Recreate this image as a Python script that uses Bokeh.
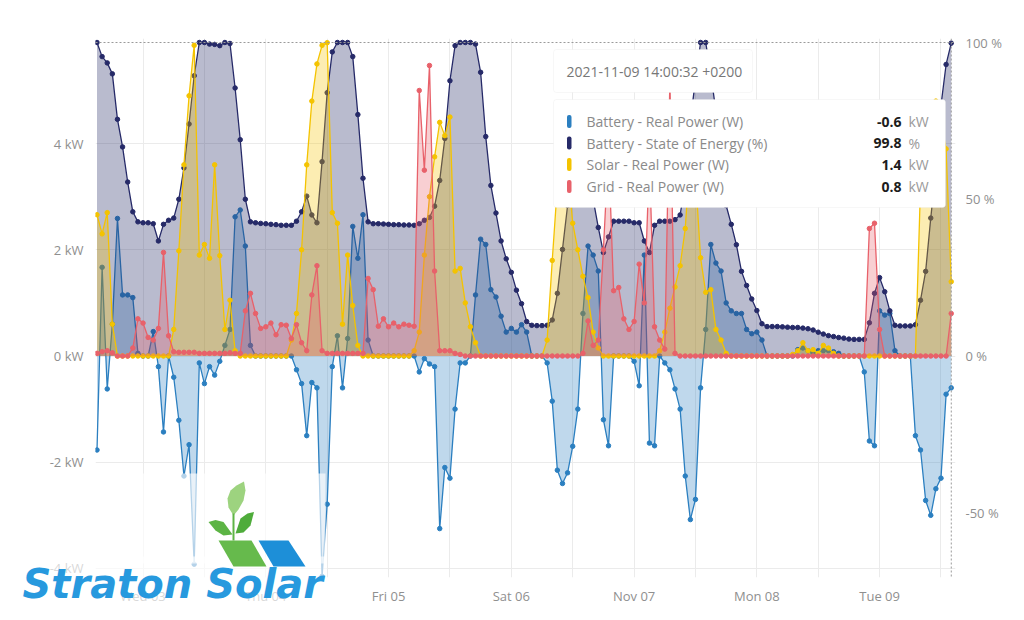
import pandas as pd
from bokeh.plotting import figure
from bokeh.models import (Range1d, LinearAxis, FixedTicker, Span, BoxAnnotation, Label, Title)
from bokeh.embed import file_html
from bokeh.resources import INLINE

# ---------------- data (hourly samples, first at 2021-11-02 15:00) ----------------
start_time = "2021-11-02 15:00"
n_points = 168

battery_kw = [
    -1.77, 1.67, -0.62, 0.6, 2.59, 1.15, 1.15, 1.1, 0.05, 0, 0, 0.46,
    -0.2, -1.43, 0, -0.4, -1.21, -2.26, -1.67, -3.92, -0.13, -0.52, -0.2, -0.36,
    -0.1, 0.2, 0.5, 2.62, 2.75, 2.07, 0.2, 0, 0, 0, 0, 0,
    0, 0, 0, -0.26, -0.52, -1.5, -0.5, -0.6, -4.15, -2.79, -0.2, 0.38,
    -0.6, 0.33, 2.44, 1.84, 2.66, 0.3, 0, 0, 0, 0, 0, 0,
    0, 0, 0, -0.3, -0.05, -0.15, -0.2, -3.25, -2.1, -2.3, -1.0, -0.13,
    -0.13, 0, 1.15, 2.2, 2.1, 1.25, 1.11, 0.75, 0.45, 0.52, 0.45, 0.59,
    0.45, 0, 0, 0, -0.13, -0.85, -2.15, -2.4, -2.2, -1.7, -1.0, 0.8,
    2.07, 1.9, 1.6, -1.2, -1.69, 0, 0, 0, 0, -0.1, -0.56, 1.9,
    -1.64, -1.69, 0, -0.13, -0.26, -0.62, -1.0, -2.26, -3.08, -2.7, -0.6, 0.5,
    2.1, 1.75, 1.6, 1.0, 0.85, 0.8, 0.8, 0.5, 0.42, 0.45, 0.3, 0,
    0, 0, 0, 0, 0, 0.12, 0.15, 0.1, 0.05, 0.1, 0.1, 0.1,
    0.08, 0.05, 0, 0, 0, 0, -0.3, -1.6, -1.69, 0.85, 0.77, 0.8,
    0.1, 0, 0, 0, -1.5, -1.77, -2.72, -3.0, -2.5, -2.3, -0.72, -0.6,
]

soe_pct = [
    100, 95.5, 93.5, 90, 75.5, 66.7, 55.5, 46, 42.8, 42.5, 42.5, 42.2,
    36.7, 42, 43.3, 44, 50, 60, 74, 89.4, 100, 100, 99.5, 99.4,
    99, 100, 99.7, 85.5, 69, 50, 42.8, 42.5, 42.3, 42.2, 42, 41.9,
    41.7, 41.7, 41.7, 43, 46, 51, 45, 42.5, 62, 84, 97, 100,
    100, 100, 95.5, 77, 56.7, 42.8, 42.2, 42.2, 42.1, 42, 41.9, 41.9,
    41.8, 41.8, 41.7, 42.2, 43.3, 44.2, 47.8, 56, 69.4, 87.8, 99, 100,
    100, 100, 99.5, 90.5, 70, 54.4, 45.6, 36.7, 31, 26.7, 21, 16.7,
    11, 9.8, 9.7, 9.7, 9.8, 11.5, 20, 34, 48, 62, 72, 76,
    68, 50, 41, 33, 38, 43, 43, 43, 43, 42.5, 42.5, 36.7,
    33, 41.7, 43, 43, 43, 43.5, 45, 55, 75, 88, 100, 100,
    90, 78, 62, 48, 42, 35.5, 27, 22.5, 18.2, 14.5, 10.3, 9.4,
    9.4, 9.4, 9.3, 9.2, 9.1, 9.1, 8.9, 8.7, 8.3, 7.6, 7, 6.5,
    6.2, 5.9, 5.7, 5.4, 5.3, 5.3, 5.3, 10.6, 20, 25, 20.5, 14.4,
    9.8, 9.6, 9.6, 9.6, 10, 17.8, 27, 44, 60, 80, 93, 99.8,
]

solar_kw = [
    2.66, 2.3, 2.7, 0.6, 0, 0, 0, 0, 0, 0, 0, 0,
    0, 0, 0, 0.5, 1.98, 3.6, 4.9, 5.85, 1.9, 2.1, 1.84, 3.6,
    1.89, 0.5, 1.05, 0.1, 0, 0, 0, 0, 0, 0, 0, 0,
    0, 0, 0.3, 0.8, 2.0, 3.6, 4.8, 5.5, 5.85, 5.9, 2.7, 2.5,
    0.6, 1.9, 0.95, 0.2, 0, 0, 0, 0, 0, 0, 0, 0,
    0, 0, 0.1, 0.45, 1.9, 3.0, 3.75, 4.4, 4.15, 4.5, 1.6, 1.65,
    1.0, 0.55, 0.25, 0, 0, 0, 0, 0, 0, 0, 0, 0,
    0, 0, 0, 0, 0.3, 1.8, 3.2, 4.0, 3.6, 2.5, 2.0, 1.5,
    1.1, 0.45, 0.15, 0, 0, 0, 0, 0, 0, 0, 0, 0,
    0, 0, 0.1, 0.45, 0.9, 1.3, 1.7, 2.4, 3.8, 3.4, 1.85, 1.2,
    1.25, 0.5, 0.3, 0.05, 0, 0, 0, 0, 0, 0, 0, 0,
    0, 0, 0, 0, 0.03, 0.1, 0.25, 0.1, 0.12, 0.05, 0.2, 0.15,
    0.05, 0, 0, 0, 0, 0, 0, 0, 0, 0, 0, 0,
    0, 0, 0, 0, 0, 3.2, 4.0, 4.6, 4.8, 4.4, 3.9, 1.4,
]

grid_kw = [
    0.05, 0.08, 0.1, 0.06, 0, 0, 0, 0.15, 0.7, 0.62, 0.35, 0.3,
    0.52, 1.95, 0.38, 0.08, 0.07, 0.07, 0.07, 0.07, 0.05, 0.05, 0.05, 0.05,
    0.05, 0.05, 0.06, 0.05, 0.05, 0.85, 1.18, 0.8, 0.52, 0.55, 0.62, 0.4,
    0.59, 0.58, 0.33, 0.59, 0.25, 0.1, 1.15, 1.7, 0.1, 0.05, 0.05, 0.05,
    0.05, 0.05, 0.05, 0.05, 0.05, 1.46, 1.25, 0.56, 0.7, 0.55, 0.62, 0.55,
    0.6, 0.58, 0.56, 5.0, 3.5, 5.47, 1.6, 0.1, 0.1, 0.1, 0.05, 0.03,
    0, 0, 0, 0, 0, 0, 0, 0, 0, 0, 0, 0,
    0, 0, 0, 0, 0, 0, 0, 0, 0, 0, 0, 0.05,
    0.66, 0.2, 0.3, 2.0, 3.9, 1.23, 1.29, 0.7, 0.5, 0.65, 1.73, 1.0,
    3.7, 0.55, 0.3, 0.13, 5.2, 0.05, 0, 0, 0, 0, 0, 0,
    0, 0, 0, 0, 0, 0, 0, 0, 0, 0, 0, 0,
    0, 0, 0, 0, 0, 0, 0, 0, 0, 0, 0, 0,
    0, 0, 0, 0, 0, 0, 0, 2.4, 2.5, 0.5, 0, 0,
    0, 0, 0, 0, 0, 0, 0, 0, 0, 0, 0, 0.8,
]

day_ticks = ["2021-11-03", "2021-11-04", "2021-11-05", "2021-11-06",
             "2021-11-07", "2021-11-08", "2021-11-09"]
day_labels = ["Wed 03", "Thu 04", "Fri 05", "Sat 06", "Nov 07", "Mon 08", "Tue 09"]
kw_ticks = [-4, -2, 0, 2, 4]
pct_ticks = [-50, 0, 50, 100]

series_names = ["Battery - Real Power (W)", "Battery - State of Energy (%)",
                "Solar - Real Power (W)", "Grid - Real Power (W)"]
tooltip_values = ["-0.6", "99.8", "1.4", "0.8"]
tooltip_units = ["kW", "%", "kW", "kW"]
tooltip_time = "2021-11-09 14:00:32 +0200"
cursor_time = "2021-11-09 14:00:32"
logo_text = "Straton Solar"

C_BAT = "#2b7fc0"
C_SOE = "#262a68"
C_SOL = "#f4c300"
C_GRID = "#e8616a"
colors = [C_BAT, C_SOE, C_SOL, C_GRID]
FONT = "Open Sans"
TICK_COLOR = "#8f8f8f"

times = pd.date_range(start_time, periods=n_points, freq="h")


def ms(t):
    return pd.Timestamp(t).value / 1e6


p = figure(frame_width=860, frame_height=539, x_axis_type="datetime",
           x_range=Range1d(pd.Timestamp("2021-11-02 14:42:24"), pd.Timestamp("2021-11-09 14:50:12")),
           y_range=Range1d(-4.171, 5.979),
           output_backend="svg", toolbar_location=None,
           min_border_left=95, min_border_right=65, min_border_top=38, min_border_bottom=5)
p.extra_y_ranges = {"soe": Range1d(-70.65, 101.28), "py": Range1d(577, 38)}
p.extra_x_ranges = {"px": Range1d(95, 955)}
p.outline_line_color = None
p.background_fill_color = "white"
p.border_fill_color = "white"

xa = p.xaxis[0]
ya = p.yaxis[0]
for ax in [xa, ya]:
    ax.axis_line_color = None
    ax.major_tick_line_color = None
    ax.minor_tick_line_color = None
    ax.major_tick_out = 0
    ax.major_tick_in = 0
    ax.minor_tick_out = 0
    ax.major_label_text_font = FONT
    ax.major_label_text_font_size = "13px"
    ax.major_label_text_color = TICK_COLOR

ya.ticker = FixedTicker(ticks=kw_ticks)
ya.major_label_overrides = {t: f"{t} kW" for t in kw_ticks}
ya.major_label_standoff = 12

xa.ticker = FixedTicker(ticks=[ms(d) for d in day_ticks])
xa.major_label_overrides = {ms(d): l for d, l in zip(day_ticks, day_labels)}
xa.major_label_standoff = -5

ax_r = LinearAxis(y_range_name="soe", ticker=FixedTicker(ticks=pct_ticks),
                  major_label_overrides={t: f"{t} %" for t in pct_ticks})
ax_r.axis_line_color = None
ax_r.major_tick_line_color = None
ax_r.minor_tick_line_color = None
ax_r.major_tick_out = 0
ax_r.major_tick_in = 0
ax_r.minor_tick_out = 0
ax_r.major_label_text_font = FONT
ax_r.major_label_text_font_size = "13px"
ax_r.major_label_text_color = TICK_COLOR
ax_r.major_label_standoff = 10
p.add_layout(ax_r, "right")

half_days = pd.date_range("2021-11-03 00:00", periods=14, freq="12h")
p.xgrid.ticker = FixedTicker(ticks=[ms(t) for t in half_days])
p.xgrid.grid_line_color = "#ebebeb"
p.ygrid.grid_line_color = "#ebebeb"

# series: battery, state of energy, solar, grid
p.varea(x=times, y1=0, y2=battery_kw, fill_color=C_BAT, fill_alpha=0.3)
p.line(times, battery_kw, line_color=C_BAT, line_width=1.3)
p.scatter(times, battery_kw, size=4.5, color=C_BAT)

p.varea(x=times, y1=0, y2=soe_pct, fill_color=C_SOE, fill_alpha=0.32, y_range_name="soe")
p.line(times, soe_pct, line_color=C_SOE, line_width=1.3, y_range_name="soe")
p.scatter(times, soe_pct, size=4.5, color=C_SOE, y_range_name="soe")

p.varea(x=times, y1=0, y2=solar_kw, fill_color=C_SOL, fill_alpha=0.3)
p.line(times, solar_kw, line_color=C_SOL, line_width=1.3)
p.scatter(times, solar_kw, size=4.5, color=C_SOL)

p.varea(x=times, y1=0, y2=grid_kw, fill_color=C_GRID, fill_alpha=0.3)
p.line(times, grid_kw, line_color=C_GRID, line_width=1.3)
p.scatter(times, grid_kw, size=4.5, color=C_GRID)

# cursor / top dotted lines
p.add_layout(Span(location=100, dimension="width", y_range_name="soe",
                  line_color="#9a9a9a", line_dash="2 2", line_width=1))
p.add_layout(Span(location=ms(cursor_time), dimension="height",
                  line_color="#9a9a9a", line_dash="2 2", line_width=1))

# logo: translucent white backdrop, shapes and text
p.add_layout(BoxAnnotation(left=15, right=325, top=473, bottom=563,
                           x_range_name="px", y_range_name="py",
                           fill_color="white", fill_alpha=0.65, line_color=None))
logo_xs = [[233, 228, 227, 230, 236, 243.5, 245, 243, 238],
           [232, 223, 215, 208, 215, 223],
           [235, 240, 247, 253.5, 250, 243],
           [218, 251, 266, 233],
           [258, 288, 305, 273]]
logo_ys = [[515, 507, 498, 490, 485, 481, 490, 500, 509],
           [534, 535, 530, 521.5, 519.5, 521.5],
           [533, 518, 513, 511.5, 525, 532],
           [540, 540, 566, 566],
           [540, 540, 566, 566]]
p.patches(logo_xs, logo_ys,
          fill_color=["#9dd37f", "#5cb444", "#4fac3b", "#66ba4c", "#1d8fd8"],
          line_color=None, x_range_name="px", y_range_name="py", level="overlay")
p.line([233, 233], [540, 513], line_color="#5fb546", line_width=2,
       x_range_name="px", y_range_name="py", level="overlay")

logo = Title(text=logo_text, align="left", offset=-77, vertical_align="top", standoff=-42,
             text_font="DejaVu Sans", text_font_style="bold italic", text_font_size="40px",
             text_color="#2799de", background_fill_color="white", background_fill_alpha=0.65,
             padding=4)
p.add_layout(logo, "below")
p.below = [logo, xa]

# tooltip
p.add_layout(BoxAnnotation(left=553, right=752, top=49, bottom=92,
                           x_range_name="px", y_range_name="py",
                           fill_color="white", fill_alpha=1, line_color="#e4e4e4",
                           line_width=1, border_radius=3))
p.add_layout(Label(x=566, y=71, x_range_name="px", y_range_name="py", text=tooltip_time,
                   text_font=FONT, text_font_size="14px", text_color="#777777",
                   text_baseline="middle"))
p.add_layout(BoxAnnotation(left=553, right=945, top=99, bottom=207,
                           x_range_name="px", y_range_name="py",
                           fill_color="white", fill_alpha=1, line_color="#e4e4e4",
                           line_width=1, border_radius=3))
row_y = [121, 142.5, 164, 186]
for i in range(4):
    p.add_layout(BoxAnnotation(left=566.5, right=571, top=row_y[i] - 6.5, bottom=row_y[i] + 6.5,
                               x_range_name="px", y_range_name="py",
                               fill_color=colors[i], fill_alpha=1, line_color=None,
                               border_radius=2))
    p.add_layout(Label(x=586, y=row_y[i], x_range_name="px", y_range_name="py",
                       text=series_names[i], text_font=FONT, text_font_size="14px",
                       text_color="#8a8a8a", text_baseline="middle"))
    p.add_layout(Label(x=901, y=row_y[i], x_range_name="px", y_range_name="py",
                       text=tooltip_values[i], text_font=FONT, text_font_size="14px",
                       text_font_style="bold", text_color="#1c1c1c",
                       text_baseline="middle", text_align="right"))
    p.add_layout(Label(x=908, y=row_y[i], x_range_name="px", y_range_name="py",
                       text=tooltip_units[i], text_font=FONT, text_font_size="14px",
                       text_color="#9a9a9a", text_baseline="middle"))

open("out.html", "w").write(file_html(p, INLINE))
